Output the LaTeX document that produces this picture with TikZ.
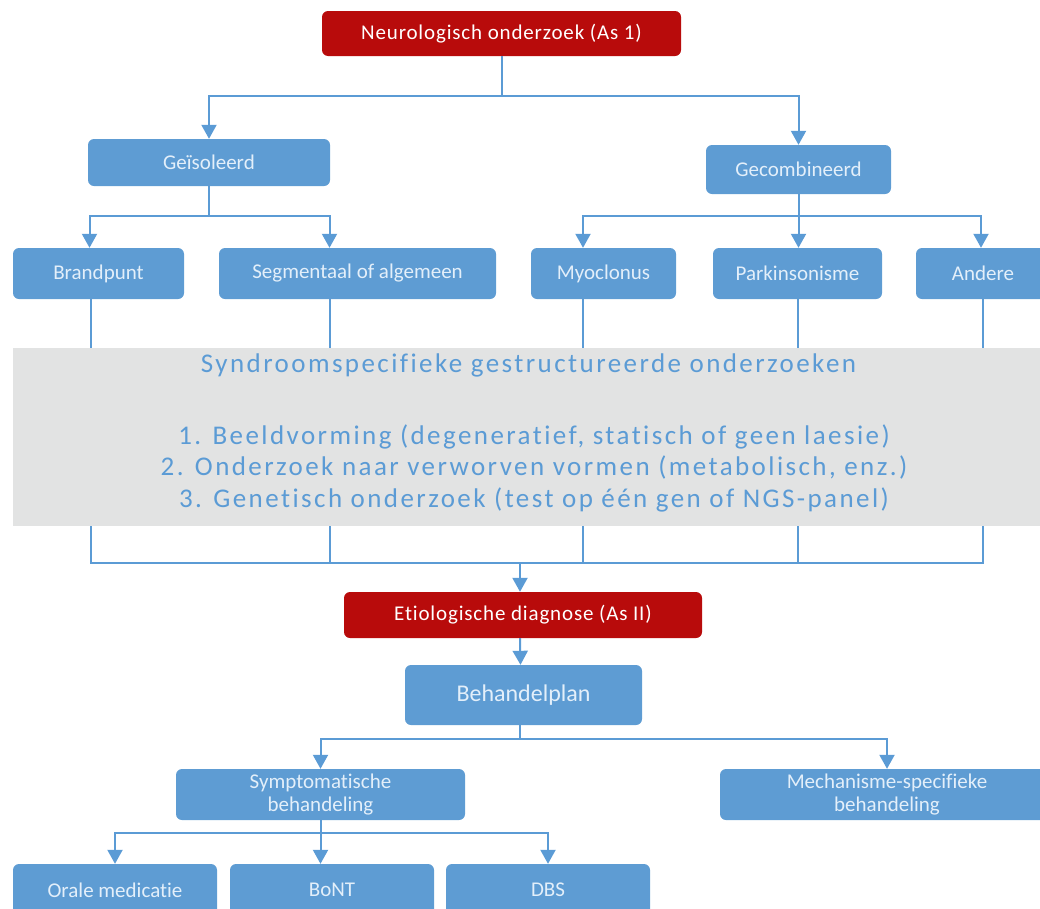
\documentclass[tikz,border=0pt]{standalone}
\usepackage{fontspec}
\setmainfont[Ligatures=NoCommon]{Carlito}
\newfontfamily\redfont[LetterSpace=4,Ligatures=NoCommon]{Carlito}
\newfontfamily\bandfont[LetterSpace=9,Ligatures=NoCommon]{Carlito}
\usetikzlibrary{arrows.meta,calc}
\definecolor{boxblue}{HTML}{5E9CD3}
\definecolor{linkblue}{HTML}{5B9BD5}
\definecolor{boxred}{HTML}{B80B0B}
\definecolor{bandgray}{HTML}{E2E3E3}
\definecolor{paletext}{HTML}{E3EFFA}
\begin{document}
\begin{tikzpicture}[x=1pt,y=-1pt,
  bluebox/.style={fill=boxblue, rounded corners=6pt, text=paletext, font=\fontsize{21}{23}\selectfont, align=center, inner sep=0pt},
  redbox/.style={fill=boxred, rounded corners=6pt, text=white, font=\redfont\fontsize{21}{23}\selectfont, inner sep=0pt},
  conn/.style={draw=linkblue, line width=2pt},
  arr/.style={conn, -{Triangle[width=15pt,length=14pt]}},
  bandtext/.style={text=linkblue, font=\bandfont\fontsize{27}{31.5}\selectfont, align=center, inner sep=0pt}]
\useasboundingbox (0,0) rectangle (1040,908);
\clip (0,0) rectangle (1040,908);
% boxes
\node[redbox, minimum width=359pt, minimum height=45pt] (top) at (501.5,33.5) {Neurologisch onderzoek (As 1)};
\node[bluebox, minimum width=242pt, minimum height=47pt] (iso) at (209,162.5) {Geïsoleerd};
\node[bluebox, minimum width=185pt, minimum height=49pt] (comb) at (798.5,169.5) {Gecombineerd};
\node[bluebox, minimum width=171pt, minimum height=51pt] (brand) at (98.5,273.5) {Brandpunt};
\node[bluebox, minimum width=277pt, minimum height=51pt] (seg) at (357.5,273.5) {Segmentaal of algemeen};
\node[bluebox, minimum width=145pt, minimum height=51pt] (myo) at (603.5,273.5) {Myoclonus};
\node[bluebox, minimum width=169pt, minimum height=51pt] (park) at (797.5,273.5) {Parkinsonisme};
\node[bluebox, minimum width=134pt, minimum height=51pt] (andere) at (983,273.5) {Andere};
\node[redbox, minimum width=358pt, minimum height=46pt] (etio) at (523,615) {Etiologische diagnose (As II)};
\node[bluebox, minimum width=237pt, minimum height=60pt, font=\fontsize{24}{26}\selectfont] (plan) at (523.5,695) {Behandelplan};
\node[bluebox, minimum width=289pt, minimum height=51pt] (sympt) at (320.5,794.5) {Symptomatische\\behandeling};
\node[bluebox, minimum width=334pt, minimum height=51pt] (mech) at (887,794.5) {Mechanisme-specifieke\\behandeling};
\node[bluebox, minimum width=204pt, minimum height=52pt] (orale) at (115,890) {Orale medicatie};
\node[bluebox, minimum width=204pt, minimum height=52pt] (bont) at (332,890) {BoNT};
\node[bluebox, minimum width=204pt, minimum height=52pt] (dbs) at (548,890) {DBS};
% junction levels
\coordinate (j1) at (0,96);
\coordinate (j2) at (0,216);
\coordinate (j3) at (0,563);
\coordinate (j4) at (0,739);
\coordinate (j5) at (0,833);
% connectors, first level
\draw[arr] (top.south) -- (top.south |- j1) -| (iso.north);
\draw[arr] (top.south |- j1) -| (comb.north);
% second level
\draw[arr] (iso.south) -- (iso.south |- j2) -| ([xshift=-9pt]brand.north);
\draw[arr] (iso.south |- j2) -| ([xshift=-28pt]seg.north);
\draw[arr] (comb.south) -- (comb.south |- j2) -| ([xshift=-20.5pt]myo.north);
\draw[arr] (comb.south) -- (comb.south |- park.north);
\draw[arr] (comb.south |- j2) -| ([xshift=-2pt]andere.north);
% lines through the band
\draw[conn] ([xshift=-8pt]brand.south) |- (andere.south |- j3) -- (andere.south);
\draw[conn] ([xshift=-27.5pt]seg.south) -- ([xshift=-27.5pt]seg.south |- j3);
\draw[conn] ([xshift=-20.5pt]myo.south) -- ([xshift=-20.5pt]myo.south |- j3);
\draw[conn] (park.south) -- (park.south |- j3);
\draw[arr] ([xshift=-3pt]etio.north |- j3) -- ([xshift=-3pt]etio.north);
\draw[arr] ([xshift=-3pt]etio.south) -- ([xshift=-3pt]plan.north);
% treatment levels
\draw[arr] ([xshift=-4pt]plan.south) -- ([xshift=-4pt]plan.south |- j4) -| (sympt.north);
\draw[arr] ([xshift=-4pt]plan.south |- j4) -| (mech.north);
\draw[arr] (sympt.south) -- (sympt.south |- j5) -| (orale.north);
\draw[arr] (sympt.south) -- (sympt.south |- bont.north);
\draw[arr] (sympt.south |- j5) -| (dbs.north);
% band
\node[fill=bandgray, minimum width=1034pt, minimum height=178pt, inner sep=0pt] (band) at (530,437) {};
\node[bandtext] (bandtitle) at (528.5,365) {Syndroomspecifieke gestructureerde onderzoeken};
\node[bandtext] (bandlist) at (534,468) {1. Beeldvorming (degeneratief, statisch of geen laesie)\\2. Onderzoek naar verworven vormen (metabolisch, enz.)\\3. Genetisch onderzoek (test op één gen of NGS-panel)};
\end{tikzpicture}
\end{document}
